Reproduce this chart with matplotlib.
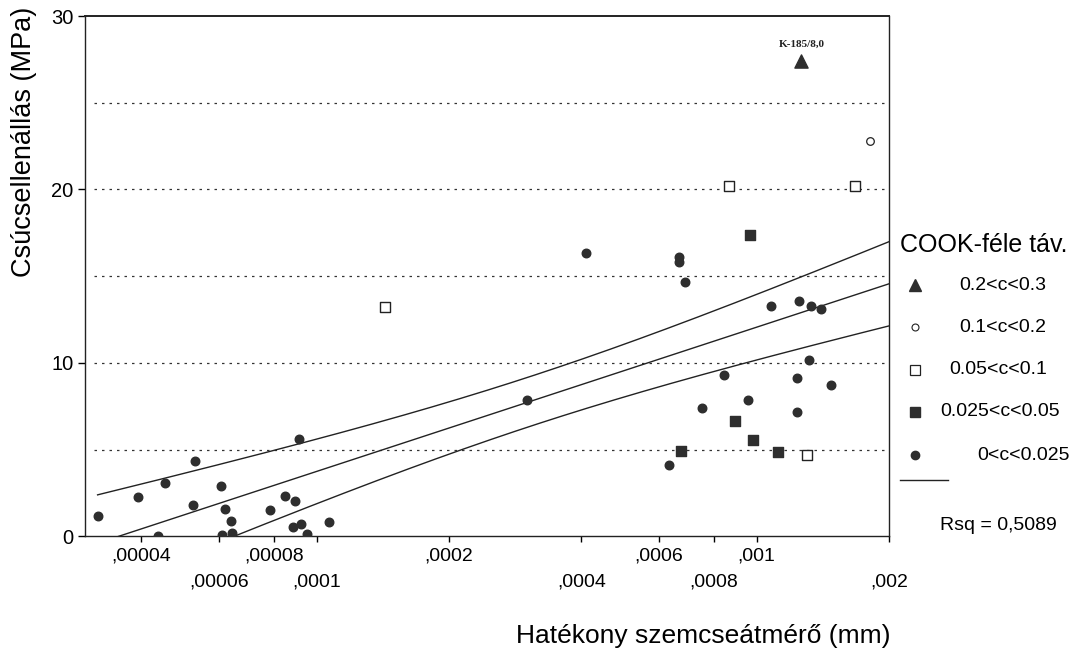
import numpy as np
import matplotlib
matplotlib.use('Agg')
import matplotlib.pyplot as plt
from matplotlib.ticker import FixedLocator, FixedFormatter
from matplotlib.lines import Line2D

plt.rcParams['font.family'] = ['Liberation Sans', 'DejaVu Sans']

# COOK distance groups, x = effective grain size (mm), y = cone resistance (MPa)
tri_x = [1.265e-3]
tri_y = [27.4]
circ_x = [1.81e-3]
circ_y = [22.8]
osq_x = [1.43e-4, 8.65e-4, 1.67e-3, 1.30e-3]
osq_y = [13.2, 20.2, 20.2, 4.7]
fsq_x = [9.68e-4, 8.94e-4, 9.84e-4, 6.73e-4, 1.118e-3]
fsq_y = [17.4, 6.65, 5.55, 4.93, 4.87]
dot_x = [3.18e-5, 3.93e-5, 4.52e-5, 4.37e-5, 5.30e-5, 5.24e-5, 6.05e-5, 6.21e-5,
         6.40e-5, 6.11e-5, 6.42e-5, 7.82e-5, 8.46e-5, 8.93e-5, 9.14e-5, 8.83e-5,
         9.23e-5, 9.50e-5, 1.067e-4,
         3.01e-4, 4.09e-4,
         6.68e-4, 6.68e-4, 6.86e-4, 1.077e-3, 1.251e-3, 1.331e-3, 1.403e-3,
         1.315e-3, 8.43e-4, 1.235e-3, 1.474e-3, 9.54e-4, 7.53e-4, 1.237e-3, 6.32e-4]
dot_y = [1.16, 2.27, 3.08, 0.05, 4.37, 1.79, 2.91, 1.60,
         0.90, 0.10, 0.20, 1.52, 2.33, 2.04, 5.62, 0.52,
         0.73, 0.16, 0.83,
         7.88, 16.36,
         16.1, 15.8, 14.66, 13.3, 13.6, 13.3, 13.1,
         10.19, 9.31, 9.12, 8.73, 7.84, 7.42, 7.17, 4.14]

upper_ticks = [4e-5, 8e-5, 2e-4, 6e-4, 1e-3]
upper_labels = [',00004', ',00008', ',0002', ',0006', ',001']
lower_ticks = [6e-5, 1e-4, 4e-4, 8e-4, 2e-3]
lower_labels = [',00006', ',0001', ',0004', ',0008', ',002']
y_ticks = [0, 10, 20, 30]
grid_y = [5, 10, 15, 20, 25]

leg_labels = ['0.2<c<0.3', '0.1<c<0.2', '0.05<c<0.1', '0.025<c<0.05', '0<c<0.025']
rsq_text = 'Rsq = 0,5089'
t_val = 2.01

mk = '#2e2e2e'

fig = plt.figure(figsize=(10.81, 6.48), dpi=100)
ax = fig.add_axes([0.0782, 0.1721, 0.7442, 0.8032])
ax.set_xscale('log')
ax.set_xlim(2.97e-5, 2e-3)
ax.set_ylim(0, 30)

for g in grid_y:
    ax.axhline(g, xmin=0.012, xmax=1, color='#333333', lw=0.9, ls=(0, (2, 4)), zorder=1)

# regression of y on log10(x) with 95% mean confidence band
all_x = np.array(dot_x + fsq_x + osq_x + circ_x + tri_x)
all_y = np.array(dot_y + fsq_y + osq_y + circ_y + tri_y)
u = np.log10(all_x)
b, a = np.polyfit(u, all_y, 1)
res = all_y - (a + b * u)
n = len(u)
s = np.sqrt(np.sum(res ** 2) / (n - 2))
sxx = np.sum((u - u.mean()) ** 2)
uu = np.linspace(u.min(), np.log10(2e-3), 200)
yy = a + b * uu
hw = t_val * s * np.sqrt(1 / n + (uu - u.mean()) ** 2 / sxx)
xx = 10 ** uu
ax.plot(xx, yy, color='#222222', lw=1, zorder=2)
ax.plot(xx, yy + hw, color='#222222', lw=1, zorder=2)
ax.plot(xx, yy - hw, color='#222222', lw=1, zorder=2)

ax.scatter(dot_x, dot_y, s=38, marker='o', color=mk, zorder=3)
ax.scatter(fsq_x, fsq_y, s=62, marker='s', color=mk, zorder=3)
ax.scatter(osq_x, osq_y, s=62, marker='s', facecolor='white', edgecolor='#222222', lw=1, zorder=3)
ax.scatter(circ_x, circ_y, s=30, marker='o', facecolor='white', edgecolor='#222222', lw=0.9, zorder=3)
ax.scatter(tri_x, tri_y, s=90, marker='^', color=mk, zorder=3)
ax.annotate('K-185/8,0', (tri_x[0], tri_y[0]), xytext=(0, 12), textcoords='offset points',
            ha='center', va='center', fontsize=8, fontweight='bold',
            family=['Liberation Serif', 'DejaVu Serif'], color='#222222')

for sp in ax.spines.values():
    sp.set_linewidth(1)
    sp.set_color('#222222')
ax.spines['top'].set_linewidth(1.4)

ax.xaxis.set_major_locator(FixedLocator(upper_ticks))
ax.xaxis.set_major_formatter(FixedFormatter(upper_labels))
ax.xaxis.set_minor_locator(FixedLocator(lower_ticks))
ax.xaxis.set_minor_formatter(FixedFormatter(lower_labels))
ax.tick_params(axis='x', which='major', direction='out', length=4, width=1, pad=4, labelsize=14)
ax.tick_params(axis='x', which='minor', direction='out', length=4, width=1, pad=23, labelsize=14)
ax.set_yticks(y_ticks)
ax.tick_params(axis='y', direction='out', length=5, width=1, pad=3, labelsize=14.5)

fig.text(24 / 1081, 1 - 7 / 648, 'Csúcsellenállás (MPa)', rotation=90, ha='center', va='top', fontsize=19.5)
fig.text(890 / 1081, 1 - 636 / 648, 'Hatékony szemcseátmérő (mm)', ha='right', va='center', fontsize=19)

# legend drawn by hand
fig.text(984 / 1081, 1 - 245 / 648, 'COOK-féle táv.', ha='center', va='center', fontsize=18)
leg_y = [285, 327, 370, 412, 455]
leg_tx = [1003, 1003, 998, 1000, 1024]
styles = [dict(marker='^', markersize=9, color=mk),
          dict(marker='o', markersize=5, markerfacecolor='white', markeredgecolor='#222222', markeredgewidth=0.8),
          dict(marker='s', markersize=7, markerfacecolor='white', markeredgecolor='#222222', markeredgewidth=0.9),
          dict(marker='s', markersize=7, color=mk),
          dict(marker='o', markersize=6, color=mk)]
for lab, py, tx, st in zip(leg_labels, leg_y, leg_tx, styles):
    fig.add_artist(Line2D([915 / 1081], [1 - py / 648], transform=fig.transFigure, linestyle='none', **st))
    fig.text(tx / 1081, 1 - py / 648, lab, ha='center', va='center', fontsize=14)
fig.add_artist(Line2D([900 / 1081, 948 / 1081], [1 - 480 / 648] * 2, transform=fig.transFigure,
                      color='#222222', lw=1))
fig.text(998 / 1081, 1 - 525 / 648, rsq_text, ha='center', va='center', fontsize=14)

fig.savefig('out.png', dpi=100)
